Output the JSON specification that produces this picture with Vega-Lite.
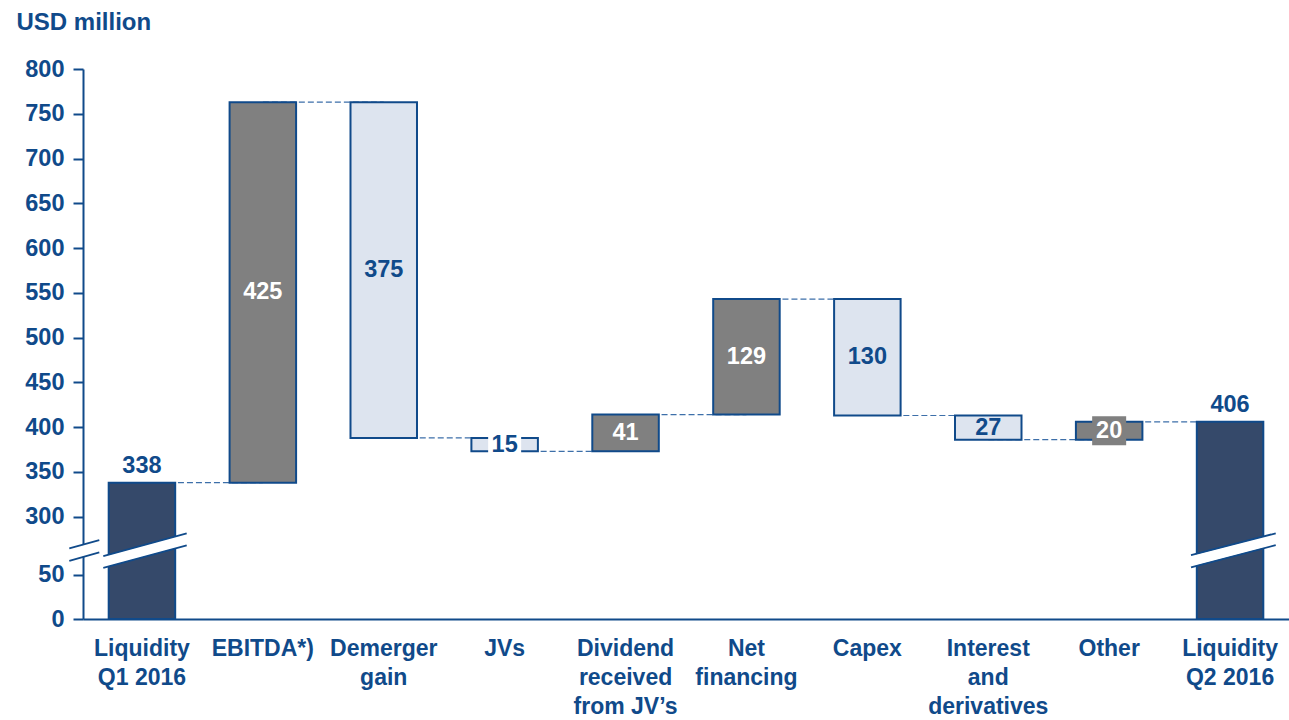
{
  "$schema": "https://vega.github.io/schema/vega-lite/v6.json",
  "width": 1206,
  "height": 550,
  "autosize": {"type": "none"},
  "padding": {"left": 83, "top": 69, "right": 0, "bottom": 101},
  "background": "white",
  "config": {"view": {"stroke": null}, "font": "Liberation Sans"},
  "layer": [
    {
      "data": {
        "values": [
          {"cat": "Liquidity|Q1 2016", "kind": "total", "start": 0, "end": 338, "value": 338, "next": "EBITDA*)"},
          {"cat": "EBITDA*)", "kind": "up", "start": 338, "end": 763, "value": 425, "next": "Demerger|gain"},
          {"cat": "Demerger|gain", "kind": "down", "start": 763, "end": 388, "value": 375, "next": "JVs"},
          {"cat": "JVs", "kind": "down", "start": 388, "end": 373, "value": 15, "next": "Dividend|received|from JV’s"},
          {"cat": "Dividend|received|from JV’s", "kind": "up", "start": 373, "end": 414, "value": 41, "next": "Net|financing"},
          {"cat": "Net|financing", "kind": "up", "start": 414, "end": 543, "value": 129, "next": "Capex"},
          {"cat": "Capex", "kind": "down", "start": 543, "end": 413, "value": 130, "next": "Interest|and|derivatives"},
          {"cat": "Interest|and|derivatives", "kind": "down", "start": 413, "end": 386, "value": 27, "next": "Other"},
          {"cat": "Other", "kind": "up", "start": 386, "end": 406, "value": 20, "next": "Liquidity|Q2 2016"},
          {"cat": "Liquidity|Q2 2016", "kind": "total", "start": 0, "end": 406, "value": 406, "next": null}
        ]
      },
      "layer": [
        {
          "transform": [{"filter": "datum.next != null"}],
          "mark": {"type": "rule", "color": "#3d6fa9", "strokeWidth": 1.2, "strokeDash": [6, 3]},
          "encoding": {
            "x": {"field": "cat", "type": "nominal"},
            "x2": {"field": "next"},
            "y": {"field": "end", "type": "quantitative"}
          }
        },
        {
          "mark": {"type": "bar", "stroke": "#104a8a", "strokeWidth": 2},
          "encoding": {
            "x": {
              "field": "cat", "type": "nominal", "sort": null,
              "scale": {
                "domain": ["Liquidity|Q1 2016", "EBITDA*)", "Demerger|gain", "JVs", "Dividend|received|from JV’s", "Net|financing", "Capex", "Interest|and|derivatives", "Other", "Liquidity|Q2 2016"],
                "paddingInner": 0.45, "paddingOuter": 0.2125
              },
              "axis": {
                "title": null, "labelExpr": "split(datum.label, '|')", "labelAngle": 0,
                "labelAlign": "center",
                "labelFont": "Liberation Sans", "labelFontSize": 23, "labelFontWeight": "bold",
                "labelColor": "#104a8a", "labelLineHeight": 29, "labelBaseline": "top",
                "labelPadding": 18, "ticks": false, "tickSize": 0, "domainColor": "#104a8a",
                "domainWidth": 2, "labelOverlap": false, "labelLimit": 400, "zindex": 0
              }
            },
            "y": {
              "field": "start", "type": "quantitative",
              "scale": {"domain": [0, 50, 300, 800], "range": [550, 505.5, 447.7, 0], "nice": false, "zero": false},
              "axis": {
                "title": "USD million",
                "values": [0, 50, 300, 350, 400, 450, 500, 550, 600, 650, 700, 750, 800],
                "grid": false, "domainColor": "#104a8a", "domainWidth": 2,
                "tickColor": "#104a8a", "tickWidth": 2, "tickSize": 10,
                "labelFont": "Liberation Sans", "labelFontSize": 23.5, "labelFontWeight": "bold",
                "labelColor": "#104a8a", "labelPadding": 9,
                "titleAngle": 0, "titleAlign": "left", "titleBaseline": "alphabetic",
                "titleX": -67, "titleY": -40, "titleFont": "Liberation Sans",
                "titleFontSize": 24, "titleFontWeight": "bold", "titleColor": "#104a8a",
                "zindex": 0
              }
            },
            "y2": {"field": "end"},
            "fill": {
              "field": "kind", "type": "nominal",
              "scale": {"domain": ["total", "up", "down"], "range": ["#35496a", "#808080", "#dde4ef"]},
              "legend": null
            }
          }
        },
        {
          "transform": [{"filter": "datum.cat == 'JVs'"}],
          "mark": {"type": "bar", "width": 25, "fill": "white", "stroke": "white", "strokeWidth": 8},
          "encoding": {
            "x": {"field": "cat", "type": "nominal"},
            "y": {"field": "start", "type": "quantitative"},
            "y2": {"field": "end"}
          }
        },
        {
          "transform": [{"filter": "datum.cat == 'Other'"}],
          "mark": {"type": "bar", "width": 23, "fill": "#808080", "stroke": "#808080", "strokeWidth": 11},
          "encoding": {
            "x": {"field": "cat", "type": "nominal"},
            "y": {"field": "start", "type": "quantitative"},
            "y2": {"field": "end"}
          }
        },
        {
          "transform": [{"filter": "datum.kind == 'up'"}, {"calculate": "(datum.start + datum.end) / 2", "as": "mid"}],
          "mark": {"type": "text", "font": "Liberation Sans", "fontSize": 23.5, "fontWeight": "bold", "color": "white", "baseline": "middle"},
          "encoding": {
            "x": {"field": "cat", "type": "nominal"},
            "y": {"field": "mid", "type": "quantitative"},
            "text": {"field": "value", "type": "quantitative"}
          }
        },
        {
          "transform": [{"filter": "datum.kind == 'down'"}, {"calculate": "(datum.start + datum.end) / 2", "as": "mid"}],
          "mark": {"type": "text", "font": "Liberation Sans", "fontSize": 23.5, "fontWeight": "bold", "color": "#104a8a", "baseline": "middle"},
          "encoding": {
            "x": {"field": "cat", "type": "nominal"},
            "y": {"field": "mid", "type": "quantitative"},
            "text": {"field": "value", "type": "quantitative"}
          }
        },
        {
          "transform": [{"filter": "datum.kind == 'total'"}],
          "mark": {"type": "text", "font": "Liberation Sans", "fontSize": 23.5, "fontWeight": "bold", "color": "#104a8a", "baseline": "alphabetic", "dy": -10},
          "encoding": {
            "x": {"field": "cat", "type": "nominal"},
            "y": {"field": "end", "type": "quantitative"},
            "text": {"field": "value", "type": "quantitative"}
          }
        }
      ]
    },
    {
      "data": {"values": [{}]},
      "layer": [
        {"mark": {"type": "rule", "color": "white", "strokeWidth": 11},
         "encoding": {"x": {"datum": -0.6008, "type": "quantitative", "scale": {"domain": [-0.4875, 9.4875], "nice": false, "zero": false}, "axis": null}, "x2": {"datum": -0.3527}, "y": {"datum": 135.9, "type": "quantitative"}, "y2": {"datum": 172.2}}},
        {"mark": {"type": "rule", "color": "#104a8a", "strokeWidth": 1.8},
         "encoding": {"x": {"datum": -0.6008, "type": "quantitative", "scale": {"domain": [-0.4875, 9.4875], "nice": false, "zero": false}, "axis": null}, "x2": {"datum": -0.3527}, "y": {"datum": 162.9, "type": "quantitative"}, "y2": {"datum": 198.9}}},
        {"mark": {"type": "rule", "color": "#104a8a", "strokeWidth": 1.8},
         "encoding": {"x": {"datum": -0.6008, "type": "quantitative", "scale": {"domain": [-0.4875, 9.4875], "nice": false, "zero": false}, "axis": null}, "x2": {"datum": -0.3527}, "y": {"datum": 109, "type": "quantitative"}, "y2": {"datum": 145.5}}},
        {"mark": {"type": "rule", "color": "white", "strokeWidth": 11},
         "encoding": {"x": {"datum": -0.3196, "type": "quantitative", "scale": {"domain": [-0.4875, 9.4875], "nice": false, "zero": false}, "axis": null}, "x2": {"datum": 0.3702}, "y": {"datum": 104, "type": "quantitative"}, "y2": {"datum": 202}}},
        {"mark": {"type": "rule", "color": "#104a8a", "strokeWidth": 1.8},
         "encoding": {"x": {"datum": -0.3196, "type": "quantitative", "scale": {"domain": [-0.4875, 9.4875], "nice": false, "zero": false}, "axis": null}, "x2": {"datum": 0.3702}, "y": {"datum": 129.4, "type": "quantitative"}, "y2": {"datum": 228}}},
        {"mark": {"type": "rule", "color": "#104a8a", "strokeWidth": 1.8},
         "encoding": {"x": {"datum": -0.3196, "type": "quantitative", "scale": {"domain": [-0.4875, 9.4875], "nice": false, "zero": false}, "axis": null}, "x2": {"datum": 0.3702}, "y": {"datum": 78.6, "type": "quantitative"}, "y2": {"datum": 175.9}}},
        {"mark": {"type": "rule", "color": "white", "strokeWidth": 11},
         "encoding": {"x": {"datum": 8.677, "type": "quantitative", "scale": {"domain": [-0.4875, 9.4875], "nice": false, "zero": false}, "axis": null}, "x2": {"datum": 9.3777}, "y": {"datum": 107.1, "type": "quantitative"}, "y2": {"datum": 202.6}}},
        {"mark": {"type": "rule", "color": "#104a8a", "strokeWidth": 1.8},
         "encoding": {"x": {"datum": 8.677, "type": "quantitative", "scale": {"domain": [-0.4875, 9.4875], "nice": false, "zero": false}, "axis": null}, "x2": {"datum": 9.3777}, "y": {"datum": 133.8, "type": "quantitative"}, "y2": {"datum": 228}}},
        {"mark": {"type": "rule", "color": "#104a8a", "strokeWidth": 1.8},
         "encoding": {"x": {"datum": 8.677, "type": "quantitative", "scale": {"domain": [-0.4875, 9.4875], "nice": false, "zero": false}, "axis": null}, "x2": {"datum": 9.3777}, "y": {"datum": 80.4, "type": "quantitative"}, "y2": {"datum": 177.2}}}
      ]
    }
  ],
  "resolve": {"scale": {"x": "independent"}, "axis": {"x": "independent"}}
}
